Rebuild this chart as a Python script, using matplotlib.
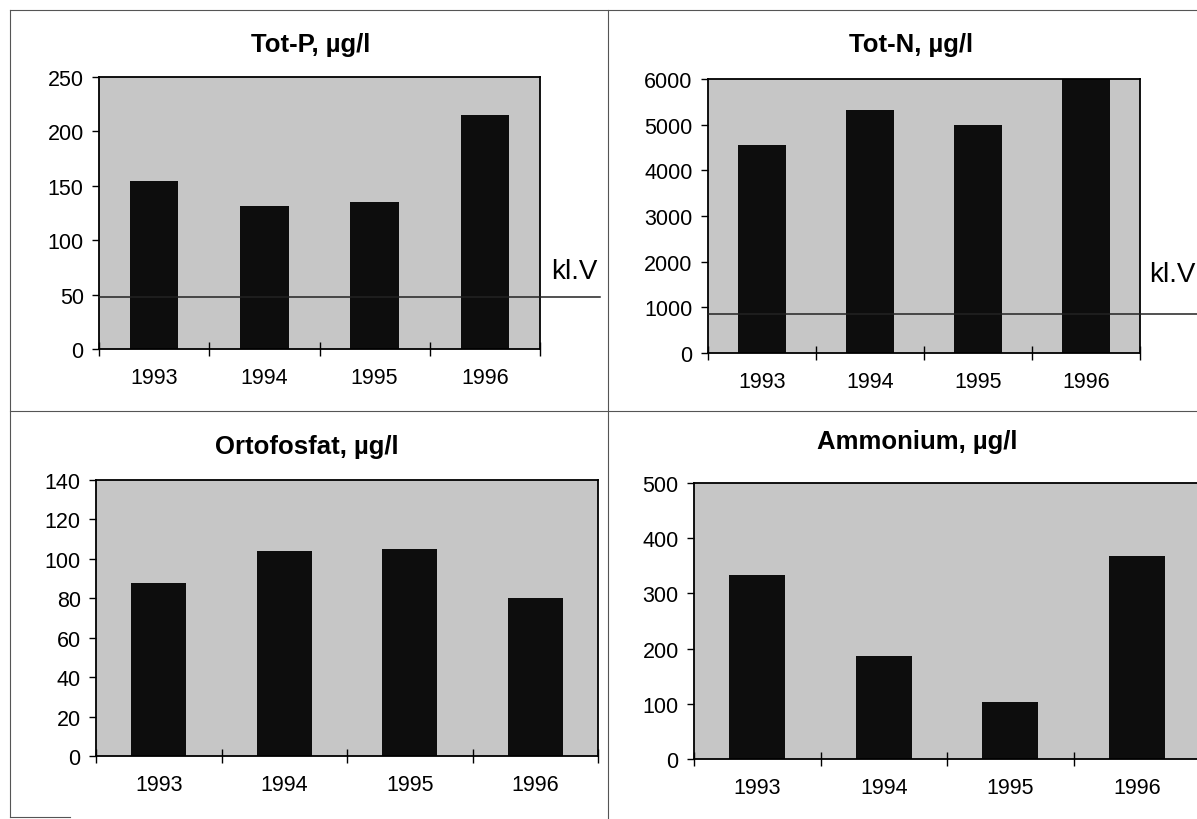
import numpy as np
import matplotlib.pyplot as plt
from matplotlib.lines import Line2D

plt.rcParams['font.family'] = ['Liberation Sans', 'DejaVu Sans']

years = ["1993", "1994", "1995", "1996"]

tot_p = [154, 131, 135, 215]
tot_n = [4550, 5320, 5000, 6000]
ortofosfat = [88, 104, 105, 80]
ammonium = [334, 187, 103, 367]

klv_tot_p = 48
klv_tot_n = 850

W, H = 1197, 820
BG = "#c6c6c6"
BAR = "#0d0d0d"

fig = plt.figure(figsize=(W / 100, H / 100), dpi=100)
fig.patch.set_facecolor("white")


def px_axes(left, top, right, bottom):
    return fig.add_axes([left / W, 1 - bottom / H, (right - left) / W, (bottom - top) / H])


def panel(ax, values, ymax, step, title, title_xy):
    x = np.arange(len(years))
    ax.set_facecolor(BG)
    ax.bar(x, values, width=0.44, color=BAR, zorder=2)
    ax.set_xlim(-0.5, len(years) - 0.5)
    ax.set_ylim(0, ymax)
    ax.set_yticks(np.arange(0, ymax + 1, step))
    ax.set_xticks(x)
    ax.set_xticklabels(years, fontsize=15.5)
    ax.tick_params(axis="x", length=0, pad=13)
    ax.set_xticks(np.arange(-0.5, len(years)), minor=True)
    ax.tick_params(axis="x", which="minor", length=10, direction="inout", width=1)
    ax.tick_params(axis="y", length=5, direction="out", labelsize=15.5, width=1, pad=6)
    for s in ax.spines.values():
        s.set_linewidth(1.3)
    fig.text(title_xy[0] / W, 1 - title_xy[1] / H, title, ha="center", va="center",
             fontsize=18.5, fontweight="bold")


ax1 = px_axes(99, 78, 540, 350)
panel(ax1, tot_p, 250, 50, "Tot-P, µg/l", (311, 45))
ax1.axhline(klv_tot_p, xmin=0, xmax=(600 - 99) / 441, color="#222222", lw=1.1,
            clip_on=False, zorder=3)
ax1.text(1.025, 0.262, "kl.V", transform=ax1.transAxes, fontsize=20, va="baseline")

ax2 = px_axes(708, 80, 1140, 354)
panel(ax2, tot_n, 6000, 1000, "Tot-N, µg/l", (911, 45))
ax2.axhline(klv_tot_n, xmin=0, xmax=(1197 - 708) / 432, color="#222222", lw=1.1,
            clip_on=False, zorder=3)
ax2.text(1.02, 0.262, "kl.V", transform=ax2.transAxes, fontsize=20, va="baseline")

ax3 = px_axes(96, 481, 598, 757)
panel(ax3, ortofosfat, 140, 20, "Ortofosfat, µg/l", (307, 447))

ax4 = px_axes(694, 484, 1200, 760)
panel(ax4, ammonium, 500, 100, "Ammonium, µg/l", (917, 442))

# frame lines around the four panels
frame = [((10, 1197), (11, 11)), ((10, 1197), (412, 412)), ((10, 10), (11, 818)),
         ((10, 70), (818, 818)), ((608, 608), (11, 820))]
for xs, ys in frame:
    fig.add_artist(Line2D([x / W for x in xs], [1 - y / H for y in ys],
                          color="#555555", lw=0.8, transform=fig.transFigure))

fig.savefig("out.png", dpi=100)
